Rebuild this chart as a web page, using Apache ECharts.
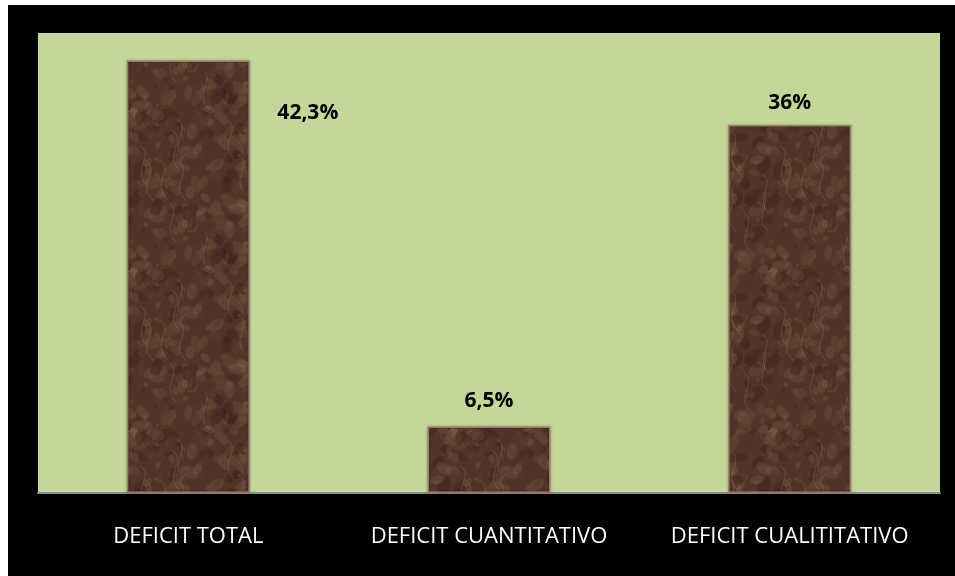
<!DOCTYPE html>
<html>
<head>
<meta charset="utf-8">
<script src="https://cdn.jsdelivr.net/npm/echarts@6/dist/echarts.min.js"></script>
<style>
html,body{margin:0;padding:0;background:#fff;}
#c{width:955px;height:576px;}
</style>
</head>
<body>
<div id="c"></div>
<script>
var categories = ['DEFICIT TOTAL', 'DEFICIT CUANTITATIVO', 'DEFICIT CUALITITATIVO'];
var values = [42.3, 6.5, 36];
var yMax = 45;

var labelPos = [[181, 52], [61.5, -26], [61.5, -22]];

// deterministic, seamless marble-like texture (style only)
function makeMarble() {
  var S = 160;
  var c = document.createElement('canvas');
  c.width = S; c.height = S;
  var g = c.getContext('2d');
  g.fillStyle = '#50342a';
  g.fillRect(0, 0, S, S);
  var tones = ['rgba(115,80,60,0.35)', 'rgba(58,35,24,0.45)', 'rgba(150,112,90,0.22)', 'rgba(90,60,44,0.4)'];
  function frac(v) { v = v % 1; return v < 0 ? -v : v; }
  for (var k = 0; k < 320; k++) {
    var x = frac(Math.sin(k * 12.9898) * 43758.5453) * S;
    var y = frac(Math.sin(k * 78.233) * 12345.678) * S;
    var r = 2 + frac(Math.sin(k * 3.17) * 999.1) * 8;
    g.fillStyle = tones[k % tones.length];
    for (var ox = -S; ox <= S; ox += S) {
      for (var oy = -S; oy <= S; oy += S) {
        g.beginPath();
        g.ellipse(x + ox, y + oy, r, r * 0.6, k * 0.7, 0, Math.PI * 2);
        g.fill();
      }
    }
  }
  g.strokeStyle = 'rgba(185,145,120,0.25)';
  g.lineWidth = 1;
  for (var j = 0; j < 16; j++) {
    var sx = frac(Math.sin(j * 5.31) * 777.7) * S;
    var sy = frac(Math.sin(j * 9.17) * 555.5) * S;
    for (var ox2 = -S; ox2 <= S; ox2 += S) {
      for (var oy2 = -S; oy2 <= S; oy2 += S) {
        g.beginPath();
        g.moveTo(sx + ox2, sy + oy2);
        g.bezierCurveTo(sx + ox2 + 15, sy + oy2 + 10, sx + ox2 - 10, sy + oy2 + 25, sx + ox2 + 8, sy + oy2 + 40);
        g.stroke();
      }
    }
  }
  return c;
}

var chart = echarts.init(document.getElementById('c'), null, {renderer: 'canvas'});
chart.setOption({
  backgroundColor: '#ffffff',
  animation: false,
  graphic: [{
    type: 'rect', z: -10,
    shape: {x: 8, y: 5, width: 947, height: 571},
    style: {fill: '#000000'}
  }],
  grid: {
    left: 38, top: 33, right: 15, bottom: 83,
    show: true, backgroundColor: '#c4d79b', borderWidth: 0
  },
  xAxis: {
    type: 'category',
    data: categories,
    axisLine: {show: true, lineStyle: {color: '#8c8c8c', width: 2}},
    axisTick: {show: false},
    axisLabel: {color: '#ffffff', fontSize: 22, fontFamily: 'Open Sans', margin: 33, interval: 0, hideOverlap: false}
  },
  yAxis: {
    type: 'value', min: 0, max: yMax,
    show: false, splitLine: {show: false}
  },
  series: [{
    type: 'bar',
    barWidth: 123,
    data: values.map(function (v, i) {
      return {
        value: v,
        label: {position: labelPos[i]}
      };
    }),
    itemStyle: {
      color: {image: makeMarble(), repeat: 'repeat'},
      borderColor: '#9a7a66',
      borderWidth: 1.5,
      shadowColor: 'rgba(0,0,0,0.25)',
      shadowBlur: 3
    },
    label: {
      show: true,
      align: 'center',
      verticalAlign: 'middle',
      color: '#000000',
      fontWeight: 'bold',
      fontSize: 21,
      fontFamily: 'Open Sans',
      formatter: function (p) {
        return String(p.value).replace('.', ',') + '%';
      }
    }
  }]
});
</script>
</body>
</html>
